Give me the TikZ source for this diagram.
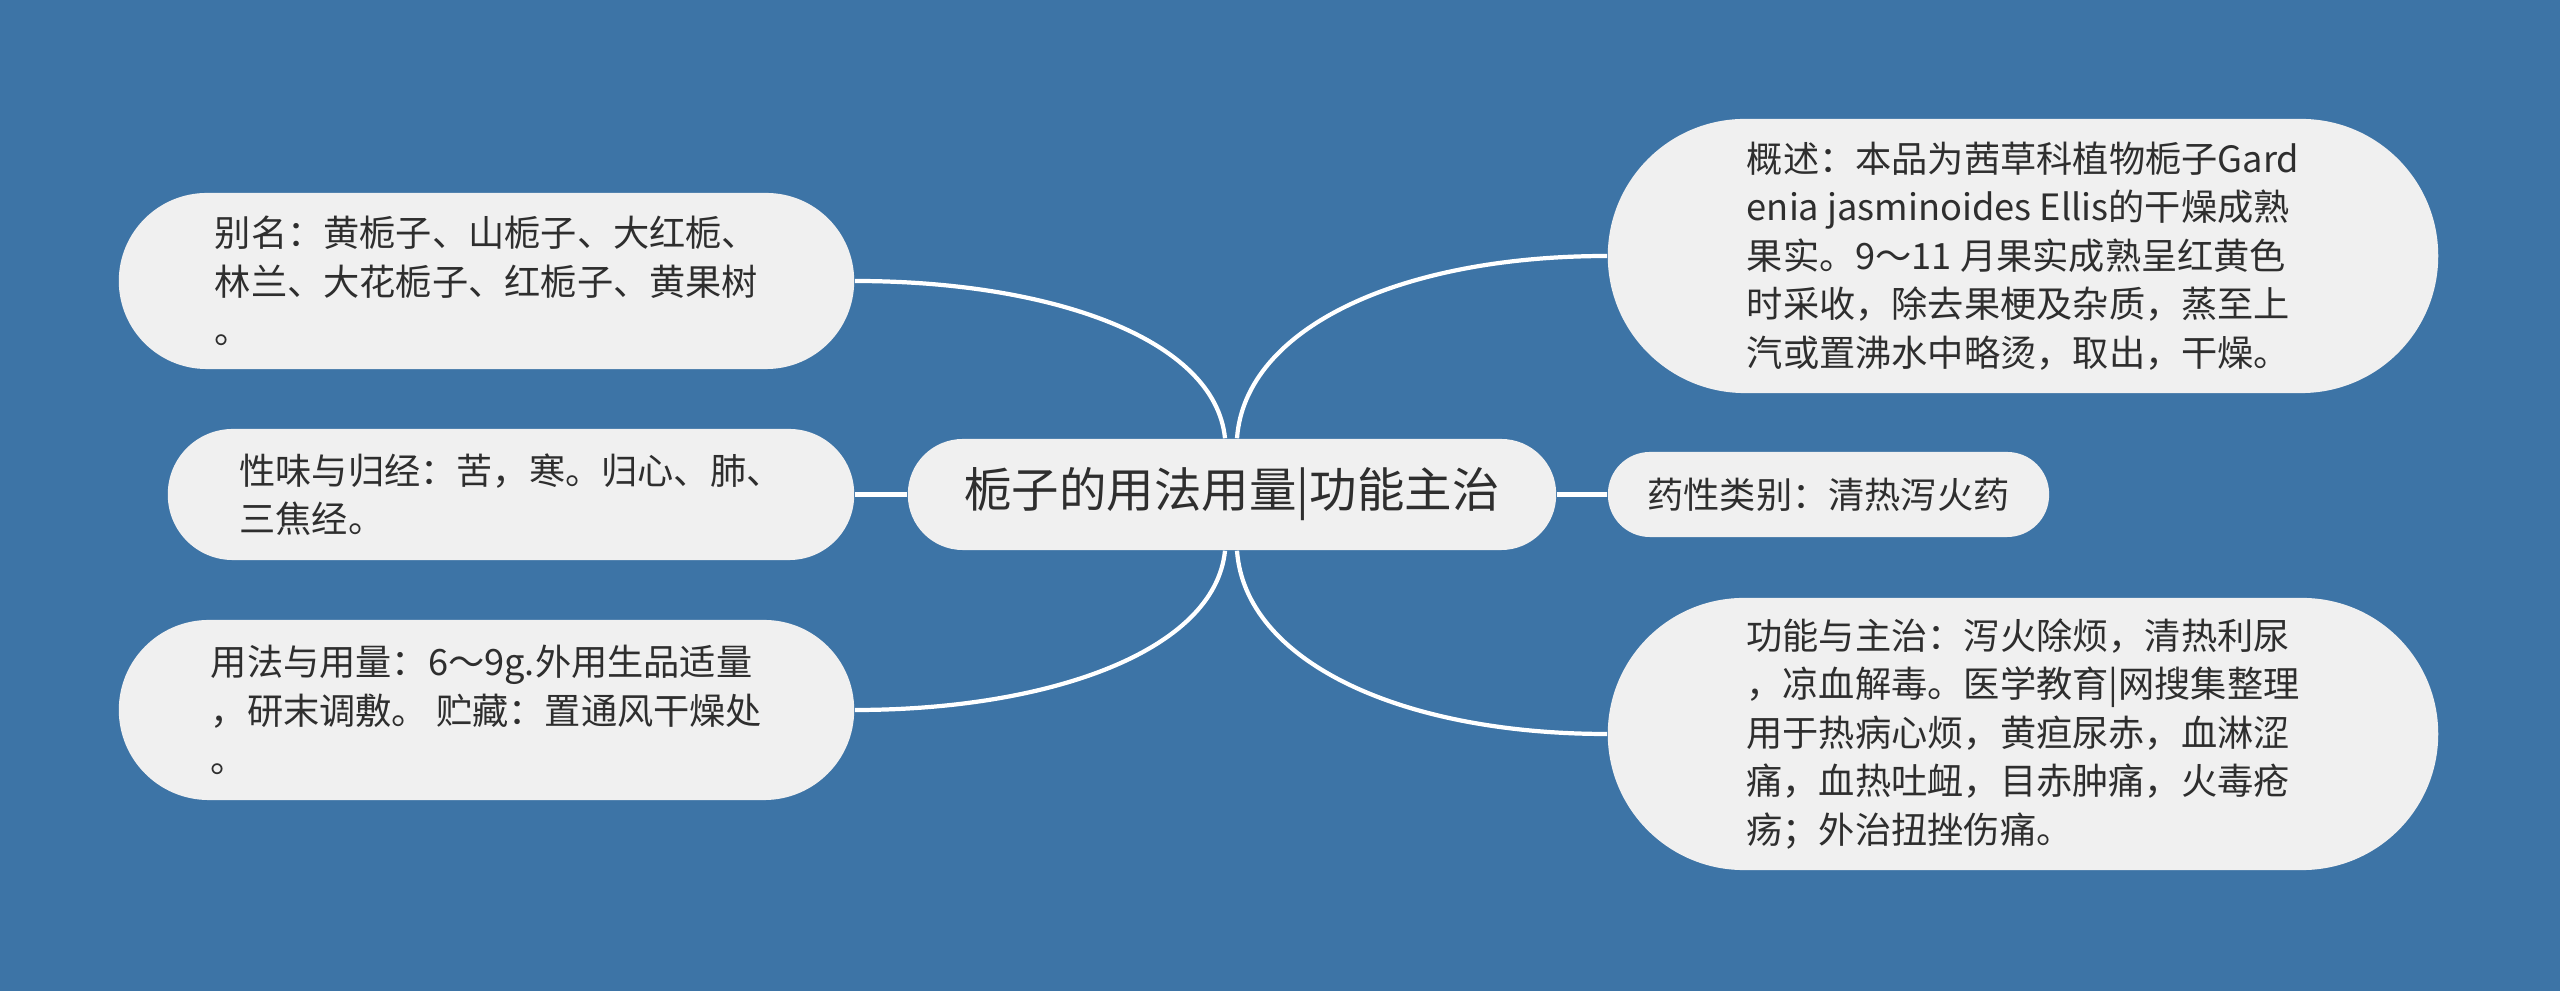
\documentclass[tikz,border=0pt]{standalone}
\usepackage{fontspec}
\setmainfont{Noto Sans CJK SC}
\definecolor{bgblue}{HTML}{3D74A6}
\definecolor{boxgray}{HTML}{F0F0F0}
\definecolor{inkgray}{HTML}{2E2E2E}

\begin{document}
\begin{tikzpicture}[x=0.01cm, y=0.01cm, every node/.style={text=inkgray, font=\fontsize{10.3}{13.8}\selectfont},
  leaf/.style n args={3}{fill=boxgray, align=left, inner sep=0pt, minimum width=#1, minimum height=#2, rounded corners=#3},
  hub/.style={leaf={6.48cm}{1.11cm}{0.55cm}, font=\fontsize{13.5}{16}\selectfont},
  link/.style={draw=white, line width=1.2pt}]
	\fill[bgblue] (0,0) rectangle (2560,991);
	\useasboundingbox (0,0) rectangle (2560,991);
	\node[hub] (root) at (1232,496.5) {栀子的用法用量|功能主治};
	\node[leaf={7.35cm}{1.76cm}{0.88cm}] (alias) at (486.5,710) {别名：黄栀子、山栀子、大红栀、\\林兰、大花栀子、红栀子、黄果树\\。};
	\node[leaf={6.86cm}{1.31cm}{0.65cm}] (taste) at (511,496.5) {性味与归经：苦，寒。归心、肺、\\三焦经。};
	\node[leaf={7.35cm}{1.80cm}{0.90cm}] (usage) at (486.5,281) {用法与用量：6～9g.外用生品适量\\，研末调敷。 贮藏：置通风干燥处\\。};
	\node[leaf={8.30cm}{2.74cm}{1.37cm}] (summary) at (2023,735) {概述：本品为茜草科植物栀子Gard\\enia jasminoides Ellis的干燥成熟\\果实。9～11 月果实成熟呈红黄色\\时采收，除去果梗及杂质，蒸至上\\汽或置沸水中略烫，取出，干燥。};
	\node[leaf={4.41cm}{0.85cm}{0.42cm}] (category) at (1828.5,496.5) {药性类别：清热泻火药};
	\node[leaf={8.30cm}{2.72cm}{1.36cm}] (function) at (2023,257) {功能与主治：泻火除烦，清热利尿\\，凉血解毒。医学教育|网搜集整理\\用于热病心烦，黄疸尿赤，血淋涩\\痛，血热吐衄，目赤肿痛，火毒疮\\疡；外治扭挫伤痛。};
	% connectors
	\draw[link] (taste.east) -- (root.west);
	\draw[link] (root.east) -- (category.west);
	\draw[link] (alias.east) .. controls +(195,0) and +(-10,100) .. ([xshift=-0.07cm]root.north);
	\draw[link] ([xshift=0.05cm]root.north) .. controls +(8,110) and +(-208,0) .. (summary.west);
	\draw[link] (usage.east) .. controls +(195,0) and +(-10,-100) .. ([xshift=-0.07cm]root.south);
	\draw[link] ([xshift=0.05cm]root.south) .. controls +(8,-110) and +(-208,0) .. (function.west);
\end{tikzpicture}
\end{document}
